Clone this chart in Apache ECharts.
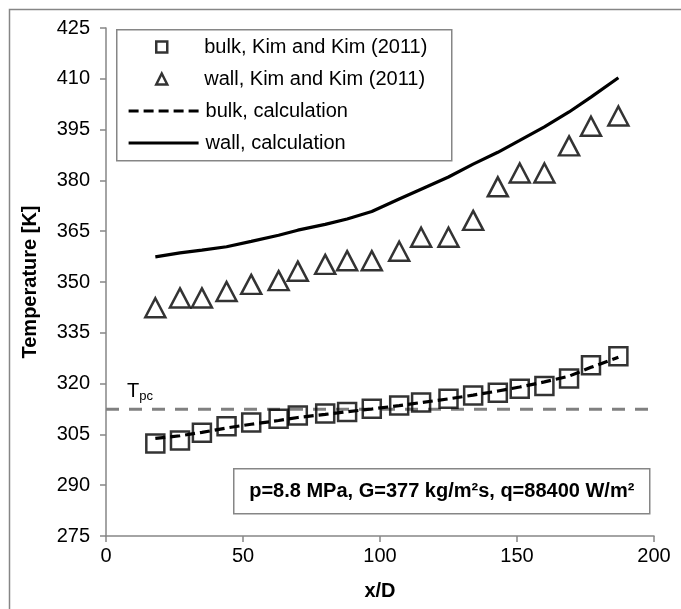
<!DOCTYPE html>
<html>
<head>
<meta charset="utf-8">
<script src="https://cdn.jsdelivr.net/npm/echarts@6/dist/echarts.min.js"></script>
<style>
html,body{margin:0;padding:0;background:#fff;}
#c{width:681px;height:609px;}
</style>
</head>
<body>
<div id="c"></div>
<script>
// ---- data ----
var xPos = [18, 27, 35, 44, 53, 63, 70, 80, 88, 97, 107, 115, 125, 134, 143, 151, 160, 169, 177, 187];
var bulkKim = [302.3, 303.2, 305.5, 307.4, 308.5, 309.6, 310.6, 311.2, 311.6, 312.6, 313.5, 314.4, 315.5, 316.5, 317.3, 318.5, 319.3, 321.5, 325.4, 328.1];
var wallKim = [342.4, 345.3, 345.3, 347.2, 349.3, 350.4, 353.2, 355.2, 356.3, 356.3, 359.1, 363.2, 363.2, 368.2, 378.1, 382.2, 382.2, 390.2, 396.0, 399.0];
var bulkCalc = [303.8, 304.6, 305.6, 306.9, 308.0, 309.1, 310.0, 310.9, 311.7, 312.5, 313.5, 314.4, 315.5, 316.6, 317.8, 319.0, 320.5, 322.2, 324.8, 327.8];
var wallCalc = [357.4, 358.6, 359.4, 360.4, 362.0, 363.8, 365.3, 367.0, 368.6, 370.8, 374.5, 377.4, 381.0, 384.8, 388.3, 391.8, 395.8, 400.2, 404.6, 410.3];
var Tpc = 312.4;
var tpcRange = [0, 200];
var seriesNames = ['bulk, Kim and Kim (2011)', 'wall, Kim and Kim (2011)', 'bulk, calculation', 'wall, calculation'];
var xTicks = {min: 0, max: 200, interval: 50};
var yTicks = {min: 275, max: 425, interval: 15};
var conditionText = 'p=8.8 MPa, G=377 kg/m²s, q=88400 W/m²';

function pairs(xs, ys) { return xs.map(function (x, i) { return [x, ys[i]]; }); }

var FONT = 'Liberation Sans, Arial, sans-serif';
var AXIS = '#868686';
var hidden = {color: 'rgba(0,0,0,0)', borderColor: 'rgba(0,0,0,0)', borderWidth: 0, opacity: 0};

var chart = echarts.init(document.getElementById('c'), null, {renderer: 'canvas'});
var option = {
  animation: false,
  backgroundColor: '#fff',
  grid: {left: 106, right: 27, top: 28, bottom: 73, containLabel: false},
  xAxis: {
    type: 'value', min: xTicks.min, max: xTicks.max, interval: xTicks.interval,
    name: 'x/D', nameLocation: 'middle', nameGap: 45,
    nameTextStyle: {fontFamily: FONT, fontSize: 20, fontWeight: 'bold', color: '#000'},
    axisLine: {show: true, lineStyle: {color: AXIS, width: 1.5}},
    axisTick: {show: true, length: 6, inside: false, lineStyle: {color: AXIS, width: 1.5}},
    axisLabel: {fontFamily: FONT, fontSize: 20, color: '#000', margin: 10},
    splitLine: {show: false}
  },
  yAxis: {
    type: 'value', min: yTicks.min, max: yTicks.max, interval: yTicks.interval,
    name: 'Temperature [K]', nameLocation: 'middle', nameGap: 66, nameRotate: 90,
    nameTextStyle: {fontFamily: FONT, fontSize: 20, fontWeight: 'bold', color: '#000'},
    axisLine: {show: true, lineStyle: {color: AXIS, width: 1.5}},
    axisTick: {show: true, length: 6, inside: false, lineStyle: {color: AXIS, width: 1.5}},
    axisLabel: {fontFamily: FONT, fontSize: 20, color: '#000', margin: 16},
    splitLine: {show: false}
  },
  legend: [
    {
      show: true, orient: 'vertical', left: 155, top: 37, padding: 0, z: 20,
      itemGap: 12, itemWidth: 11, itemHeight: 11, selectedMode: false,
      textStyle: {fontFamily: FONT, fontSize: 20, color: '#000', padding: [0, 0, 0, 32]},
      data: [
        {name: seriesNames[0], icon: 'rect', itemStyle: {color: '#fff', borderColor: '#000', borderWidth: 2.5}},
        {name: seriesNames[1], icon: 'triangle', itemStyle: {color: '#fff', borderColor: '#000', borderWidth: 2.5}}
      ]
    },
    {
      show: true, orient: 'vertical', left: 127, top: 101, padding: 0, z: 20,
      itemGap: 12, itemWidth: 70, itemHeight: 14, selectedMode: false,
      textStyle: {fontFamily: FONT, fontSize: 20, color: '#000', padding: [0, 0, 0, 2]},
      data: [
        {name: seriesNames[2], itemStyle: hidden, lineStyle: {width: 3.2, type: [10, 5], color: '#000'}},
        {name: seriesNames[3], itemStyle: hidden, lineStyle: {width: 3.2, type: 'solid', color: '#000'}}
      ]
    }
  ],
  series: [
    {
      name: 'Tpc', type: 'line', data: pairs(tpcRange, [Tpc, Tpc]), symbol: 'none',
      lineStyle: {color: '#808080', width: 3, type: [13, 10]}, silent: true, z: 1
    },
    {
      name: seriesNames[0], type: 'scatter', data: pairs(xPos, bulkKim),
      symbol: 'rect', symbolSize: 18, z: 2,
      itemStyle: {color: 'transparent', borderColor: '#000', borderWidth: 2.5}
    },
    {
      name: seriesNames[1], type: 'scatter', data: pairs(xPos, wallKim),
      symbol: 'triangle', symbolSize: [20, 19], z: 2,
      itemStyle: {color: 'transparent', borderColor: '#000', borderWidth: 2.5}
    },
    {
      name: seriesNames[2], type: 'line', data: pairs(xPos, bulkCalc), symbol: 'none', z: 3,
      lineStyle: {color: '#000', width: 3.2, type: [10, 5]}, itemStyle: {color: '#000'}
    },
    {
      name: seriesNames[3], type: 'line', data: pairs(xPos, wallCalc), symbol: 'none', z: 3,
      lineStyle: {color: '#000', width: 3.2, type: 'solid'}, itemStyle: {color: '#000'}
    }
  ],
  graphic: [
    {type: 'rect', left: 7, top: 7, shape: {width: 700, height: 700}, style: {fill: 'none', stroke: AXIS, lineWidth: 1.5}, silent: true, z: -10},
    {type: 'rect', left: 116, top: 29, shape: {width: 335, height: 131}, style: {fill: '#fff', stroke: AXIS, lineWidth: 1.5}, silent: true, z: 8},
    {type: 'text', left: 127, top: 381, style: {
      text: '{a|T}{b|pc}', rich: {
        a: {fontFamily: FONT, fontSize: 20, fill: '#000'},
        b: {fontFamily: FONT, fontSize: 13, fill: '#000', padding: [10, 0, 0, 0]}
      }}},
    {type: 'group', left: 233, top: 468, children: [
      {type: 'rect', shape: {x: 0, y: 0, width: 416, height: 45}, style: {fill: '#fff', stroke: AXIS, lineWidth: 1.5}},
      {type: 'text', x: 208, y: 23, style: {text: conditionText, fontFamily: FONT, fontSize: 20, fontWeight: 'bold', fill: '#000', align: 'center', verticalAlign: 'middle'}}
    ]}
  ]
};
chart.setOption(option);
</script>
</body>
</html>
